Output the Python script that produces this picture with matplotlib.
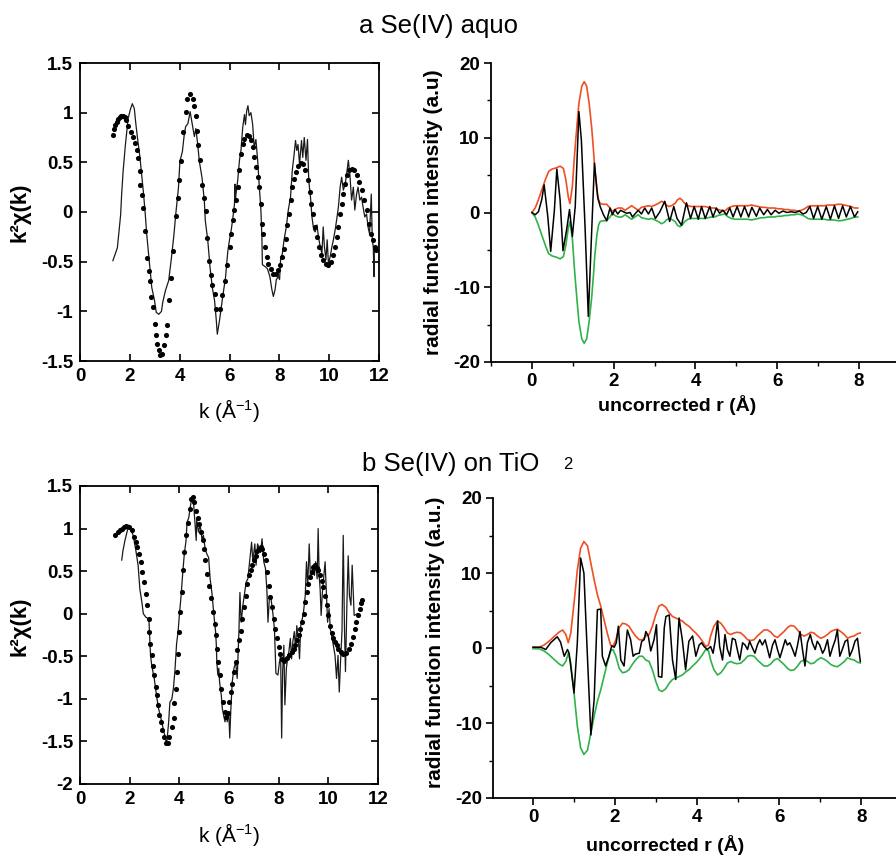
#!/usr/bin/env python3
"""
EXAFS panels: k^2-weighted chi(k) with fit (left) and Fourier transform
magnitude/imaginary part (right) for Se(IV) aquo and Se(IV) on TiO2.
"""
import numpy as np
import matplotlib
matplotlib.use("Agg")
import matplotlib.pyplot as plt
from matplotlib.ticker import MultipleLocator, FormatStrFormatter

plt.rcParams["font.family"] = ["Liberation Sans", "DejaVu Sans"]
plt.rcParams["font.weight"] = "bold"
plt.rcParams["axes.labelweight"] = "bold"
plt.rcParams["axes.unicode_minus"] = False
plt.rcParams["mathtext.fontset"] = "custom"
plt.rcParams["mathtext.rm"] = "Liberation Sans"
plt.rcParams["mathtext.it"] = "Liberation Sans:italic"
plt.rcParams["mathtext.bf"] = "Liberation Sans:bold"
plt.rcParams["mathtext.default"] = "regular"

# ---------------- a: Se(IV) aquo, chi(k) ----------------
ka_exp = [1.32, 1.50, 1.63, 1.67, 1.73, 1.82, 1.93, 2.03, 2.10, 2.18, 2.24, 2.31, 2.41, 2.54,
          2.61, 2.68, 2.78, 2.88, 2.99, 3.06, 3.16, 3.27, 3.32, 3.43, 3.56, 3.67, 3.77, 3.84,
          3.95, 4.01, 4.11, 4.18, 4.24, 4.33, 4.42, 4.52, 4.59, 4.65, 4.72, 4.79, 4.90, 4.99,
          5.03, 5.13, 5.22, 5.31, 5.40, 5.47, 5.51, 5.60, 5.67, 5.74, 5.84, 5.93, 6.00, 6.07,
          6.13, 6.20, 6.22, 6.24, 6.26, 6.33, 6.40, 6.46, 6.53, 6.60, 6.64, 6.69, 6.74, 6.79,
          6.86, 6.93, 6.99, 7.06, 7.13, 7.19, 7.26, 7.30, 7.32, 7.43, 7.52, 7.62, 7.70, 7.76,
          7.83, 7.88, 7.96, 8.01, 8.05, 8.12, 8.19, 8.28, 8.36, 8.45, 8.52, 8.58, 8.65, 8.70,
          8.75, 8.81, 8.89, 8.94, 9.00, 9.07, 9.13, 9.18, 9.25, 9.31, 9.38, 9.44, 9.51, 9.57,
          9.64, 9.71, 9.76, 9.81, 9.87, 9.92, 9.97, 10.04, 10.11, 10.17, 10.24, 10.30, 10.37,
          10.44, 10.50, 10.57, 10.64, 10.70, 10.77, 10.83, 10.90, 10.97, 11.03, 11.10, 11.16,
          11.23, 11.30, 11.36, 11.43, 11.50, 11.56, 11.62, 11.69, 11.73, 11.77, 11.80, 11.81]
chia_exp = [-0.49, -0.36, -0.03, 0.17, 0.41, 0.67, 0.94, 1.04, 1.09, 1.04, 0.89, 0.74, 0.54, 0.21,
            0.01, -0.23, -0.49, -0.76, -0.89, -1.01, -1.03, -1.00, -0.91, -0.79, -0.69, -0.46,
            -0.23, -0.03, 0.24, 0.51, 0.61, 0.77, 0.86, 0.89, 1.01, 0.86, 0.76, 0.84, 0.69,
            0.51, 0.34, 0.11, -0.09, -0.29, -0.56, -0.76, -0.89, -1.09, -1.23, -1.09, -0.96,
            -0.83, -0.66, -0.40, -0.28, -0.18, -0.07, 0.08, 0.28, 0.12, 0.18, 0.32, 0.52, 0.62,
            0.85, 0.98, 0.88, 1.02, 1.07, 0.97, 1.00, 0.88, 0.65, 0.73, 0.52, 0.28, 0.02, -0.25,
            -0.53, -0.55, -0.57, -0.65, -0.78, -0.85, -0.78, -0.68, -0.65, -0.68, -0.48, -0.42,
            -0.28, -0.15, 0.02, 0.15, 0.42, 0.55, 0.72, 0.62, 0.68, 0.48, 0.72, 0.55, 0.75, 0.52,
            0.73, 0.32, 0.15, -0.05, -0.18, -0.20, -0.13, -0.25, -0.35, -0.42, -0.15, -0.35,
            -0.48, -0.28, -0.52, -0.45, -0.35, -0.28, -0.18, -0.08, 0.05, 0.25, 0.35, 0.22,
            0.28, 0.38, 0.52, 0.38, 0.12, 0.25, 0.02, 0.18, 0.25, 0.12, 0.15, 0.05, -0.05,
            -0.02, -0.15, -0.22, 0.18, -0.28, -0.35, -0.65, -0.35]

ka_fit = [1.32, 1.36, 1.41, 1.47, 1.52, 1.59, 1.66, 1.73, 1.80, 1.86, 1.93, 2.03, 2.11, 2.20,
          2.27, 2.34, 2.41, 2.42, 2.48, 2.52, 2.59, 2.68, 2.75, 2.79, 2.86, 2.91, 3.00, 3.05,
          3.09, 3.16, 3.22, 3.29, 3.36, 3.46, 3.50, 3.59, 3.66, 3.73, 3.84, 3.93, 3.97, 4.04,
          4.15, 4.24, 4.31, 4.42, 4.52, 4.59, 4.65, 4.68, 4.72, 4.82, 4.90, 4.99, 5.06, 5.10,
          5.17, 5.24, 5.31, 5.40, 5.47, 5.60, 5.71, 5.81, 5.88, 6.00, 6.07, 6.13, 6.20, 6.26,
          6.33, 6.40, 6.46, 6.53, 6.60, 6.69, 6.77, 6.86, 6.93, 6.99, 7.06, 7.13, 7.19, 7.26,
          7.30, 7.36, 7.43, 7.50, 7.56, 7.66, 7.76, 7.85, 7.95, 8.01, 8.09, 8.17, 8.25, 8.32,
          8.38, 8.45, 8.52, 8.58, 8.65, 8.74, 8.85, 8.94, 9.05, 9.14, 9.22, 9.28, 9.35, 9.44,
          9.51, 9.60, 9.68, 9.77, 9.87, 9.97, 10.07, 10.15, 10.24, 10.30, 10.37, 10.44, 10.50,
          10.57, 10.64, 10.70, 10.79, 10.90, 11.00, 11.10, 11.19, 11.30, 11.39, 11.50, 11.59,
          11.67, 11.74, 11.83, 11.89]
chia_fit = [0.78, 0.84, 0.88, 0.91, 0.94, 0.96, 0.97, 0.97, 0.96, 0.93, 0.87, 0.81, 0.76, 0.69,
            0.62, 0.54, 0.41, 0.27, 0.17, 0.04, -0.19, -0.46, -0.59, -0.69, -0.86, -0.96, -1.13,
            -1.24, -1.33, -1.39, -1.44, -1.43, -1.34, -1.24, -1.14, -0.89, -0.66, -0.39, -0.04,
            0.14, 0.32, 0.51, 0.81, 1.01, 1.14, 1.19, 1.14, 1.07, 0.97, 0.82, 0.67, 0.52, 0.27,
            0.14, 0.01, -0.26, -0.49, -0.63, -0.73, -0.83, -0.98, -0.98, -0.84, -0.69, -0.53,
            -0.35, -0.22, -0.08, 0.02, 0.12, 0.25, 0.42, 0.58, 0.68, 0.73, 0.78, 0.77, 0.72,
            0.65, 0.55, 0.45, 0.35, 0.25, 0.08, -0.12, -0.22, -0.35, -0.45, -0.52, -0.57, -0.62,
            -0.62, -0.58, -0.53, -0.45, -0.37, -0.27, -0.13, -0.02, 0.12, 0.25, 0.33, 0.40, 0.46,
            0.49, 0.48, 0.42, 0.32, 0.20, 0.08, -0.02, -0.15, -0.25, -0.35, -0.43, -0.48, -0.52,
            -0.53, -0.50, -0.43, -0.35, -0.25, -0.15, -0.02, 0.08, 0.18, 0.28, 0.37, 0.42, 0.43,
            0.42, 0.37, 0.30, 0.22, 0.12, 0.02, -0.12, -0.22, -0.28, -0.35, -0.38]

# ---------------- a: Se(IV) aquo, Fourier transform ----------------
ra_env = [0.00, 0.08, 0.16, 0.24, 0.33, 0.41, 0.49, 0.61, 0.69, 0.77, 0.83, 0.89, 0.93, 0.99,
          1.04, 1.10, 1.15, 1.22, 1.28, 1.34, 1.40, 1.46, 1.50, 1.54, 1.59, 1.63, 1.67, 1.75,
          1.83, 1.91, 1.97, 2.03, 2.11, 2.20, 2.28, 2.36, 2.44, 2.52, 2.60, 2.68, 2.76, 2.85,
          2.93, 3.01, 3.09, 3.17, 3.24, 3.29, 3.35, 3.41, 3.50, 3.56, 3.62, 3.67, 3.74, 3.82,
          3.90, 3.98, 4.07, 4.15, 4.23, 4.31, 4.39, 4.47, 4.55, 4.63, 4.72, 4.80, 4.88, 4.96,
          5.04, 5.12, 5.20, 5.28, 5.37, 5.45, 5.53, 5.61, 5.69, 5.77, 5.85, 5.93, 6.02, 6.10,
          6.18, 6.26, 6.34, 6.42, 6.50, 6.59, 6.67, 6.75, 6.83, 6.91, 6.99, 7.07, 7.15, 7.24,
          7.32, 7.40, 7.48, 7.56, 7.64, 7.72, 7.80, 7.89, 7.97]
mag_a = [0.0, 0.6, 1.7, 3.0, 4.4, 5.5, 5.8, 6.0, 6.2, 5.9, 4.4, 2.1, 1.2, 3.5, 7.5, 11.5, 14.6,
         16.9, 17.5, 16.9, 14.6, 11.5, 8.8, 5.7, 3.0, 1.7, 1.2, 1.1, 1.1, 0.6, 0.1, 0.4, 0.6, 0.6,
         0.3, 0.6, 0.9, 0.6, 0.3, 0.7, 0.8, 0.9, 0.8, 1.0, 1.2, 1.5, 1.3, 1.0, 0.8, 0.9, 1.2, 1.7,
         1.9, 1.7, 1.2, 0.9, 0.8, 0.8, 0.8, 0.8, 0.8, 0.7, 0.6, 0.6, 0.4, 0.3, 0.2, 0.6, 0.8, 0.9,
         0.9, 0.9, 0.9, 0.9, 1.0, 0.9, 0.8, 0.7, 0.7, 0.6, 0.6, 0.6, 0.5, 0.5, 0.4, 0.4, 0.3, 0.3,
         0.2, 0.3, 0.5, 0.8, 0.9, 0.9, 0.9, 0.9, 0.9, 1.0, 1.0, 1.0, 1.1, 1.1, 1.0, 0.9, 0.8, 0.6,
         0.6]

ra_im = [0.00, 0.08, 0.16, 0.24, 0.30, 0.39, 0.46, 0.55, 0.61, 0.69, 0.76, 0.85, 0.92, 0.99,
         1.06, 1.15, 1.21, 1.30, 1.38, 1.46, 1.53, 1.61, 1.67, 1.75, 1.83, 1.91, 1.97, 2.03,
         2.10, 2.17, 2.24, 2.32, 2.40, 2.46, 2.52, 2.60, 2.68, 2.76, 2.85, 2.93, 3.02, 3.13,
         3.25, 3.37, 3.47, 3.55, 3.66, 3.78, 3.88, 3.97, 4.07, 4.15, 4.24, 4.35, 4.43, 4.51,
         4.59, 4.67, 4.76, 4.84, 4.92, 5.02, 5.11, 5.20, 5.30, 5.38, 5.49, 5.57, 5.67, 5.76,
         5.85, 5.95, 6.04, 6.14, 6.24, 6.34, 6.44, 6.54, 6.63, 6.71, 6.80, 6.89, 6.99, 7.09,
         7.20, 7.30, 7.40, 7.50, 7.60, 7.69, 7.79, 7.89, 7.97]
im_a = [0.0, -0.3, 0.1, 1.7, 3.7, -0.6, -5.2, 0.3, 5.8, 1.7, -5.1, -2.3, 0.4, -3.2, 0.8, 13.5,
        9.7, -1.9, -13.9, -2.8, 6.6, 2.0, 0.8, -0.3, -1.1, 0.6, -0.3, 0.4, -0.2, 0.3, 0.1, -0.1,
        0.0, -0.6, -0.2, 0.3, -0.2, 0.6, -0.2, 0.6, -0.8, 0.1, 1.5, -1.2, 0.8, -0.8, -1.7, 1.3,
        -0.8, 0.8, -0.9, 0.8, -0.8, 0.8, -0.6, 0.6, -0.1, 0.3, -0.3, 0.6, -0.6, 0.8, -0.6, 0.8,
        -0.6, 0.7, -0.5, 0.6, -0.3, 0.4, -0.3, 0.3, -0.1, 0.2, 0.0, 0.1, 0.0, 0.2, -0.2, 0.0,
        0.8, -0.8, 0.8, -0.9, 0.8, -0.9, 0.9, -0.8, 0.9, -0.6, 0.8, -0.6, 0.1]

# ---------------- b: Se(IV) on TiO2, chi(k) ----------------
kb_exp = [1.68, 1.73, 1.81, 1.91, 1.97, 2.04, 2.14, 2.24, 2.34, 2.41, 2.49, 2.55, 2.65, 2.76,
          2.78, 2.81, 2.84, 2.89, 2.99, 3.08, 3.16, 3.26, 3.35, 3.43, 3.49, 3.57, 3.62, 3.70,
          3.76, 3.82, 3.89, 3.95, 4.00, 4.07, 4.14, 4.20, 4.27, 4.31, 4.38, 4.45, 4.51, 4.57,
          4.61, 4.68, 4.70, 4.77, 4.84, 4.91, 4.97, 5.04, 5.11, 5.18, 5.24, 5.31, 5.38, 5.42,
          5.46, 5.49, 5.51, 5.55, 5.59, 5.62, 5.69, 5.73, 5.78, 5.84, 5.89, 5.93, 5.99, 6.03,
          6.07, 6.13, 6.20, 6.27, 6.33, 6.40, 6.44, 6.49, 6.56, 6.63, 6.69, 6.76, 6.83, 6.91,
          6.96, 7.04, 7.09, 7.15, 7.20, 7.27, 7.33, 7.40, 7.47, 7.53, 7.57, 7.63, 7.69, 7.76,
          7.83, 7.89, 7.97, 8.03, 8.08, 8.12, 8.16, 8.21, 8.25, 8.31, 8.36, 8.41, 8.47, 8.52,
          8.57, 8.63, 8.68, 8.73, 8.79, 8.84, 8.89, 8.95, 9.00, 9.07, 9.12, 9.17, 9.23, 9.28,
          9.33, 9.39, 9.44, 9.49, 9.55, 9.59, 9.63, 9.67, 9.71, 9.76, 9.81, 9.87, 9.92, 9.97,
          10.03, 10.08, 10.13, 10.20, 10.27, 10.33, 10.39, 10.44, 10.49, 10.55, 10.60, 10.65,
          10.69, 10.75, 10.80, 10.85, 10.91, 10.96, 11.00, 11.04, 11.17]
chib_exp = [0.63, 0.74, 0.86, 0.98, 1.04, 1.00, 0.92, 0.76, 0.57, 0.29, 0.14, 0.00, -0.04, -0.06,
            -0.10, -0.29, -0.49, -0.61, -0.76, -0.96, -1.11, -1.23, -1.35, -1.45, -1.54, -1.27,
            -1.04, -1.00, -0.88, -0.68, -0.35, -0.21, -0.02, 0.21, 0.49, 0.70, 0.86, 1.07, 1.13,
            1.27, 1.37, 1.31, 1.15, 0.86, 1.11, 0.96, 1.04, 0.88, 0.92, 0.76, 0.70, 0.66, 0.41,
            0.25, 0.02, -0.10, -0.21, -0.37, -0.57, -0.72, -0.64, -0.80, -0.96, -1.11, -1.19,
            -1.27, -1.15, -1.27, -1.15, -1.46, -1.15, -0.80, -0.64, -0.57, -0.76, -0.21, 0.25,
            -0.10, 0.10, 0.25, 0.37, 0.41, 0.61, 0.84, 0.61, 0.82, 0.57, 0.82, 0.78, 0.72, 0.88,
            0.61, 0.53, 0.25, -0.10, 0.21, 0.18, 0.02, -0.18, -0.70, -0.72, -0.57, -0.49, -1.46,
            -0.68, -0.37, -1.07, -0.64, -0.53, -0.45, -0.29, -0.53, -0.33, -0.21, -0.41, -0.14,
            -0.29, -0.53, -0.14, -0.06, 0.02, 0.21, 0.61, 0.33, 0.82, 0.41, 0.49, 0.57, 0.45,
            0.61, 0.41, 1.00, 0.45, 0.29, -0.02, 0.25, 0.41, 0.61, 0.25, -0.10, 0.06, -0.18,
            -0.25, -0.37, -0.49, -0.76, -0.49, -0.92, -0.57, -0.21, 0.92, -0.18, -0.68, 0.14,
            0.68, 0.21, 0.10, 0.57, 0.29, -0.02, 0.00]

kb_fit = [1.41, 1.54, 1.62, 1.70, 1.78, 1.86, 1.97, 2.08, 2.18, 2.24, 2.31, 2.38, 2.45, 2.51,
          2.58, 2.65, 2.69, 2.76, 2.78, 2.82, 2.88, 2.95, 2.99, 3.05, 3.09, 3.15, 3.19, 3.26,
          3.32, 3.39, 3.46, 3.53, 3.59, 3.70, 3.77, 3.80, 3.86, 3.89, 3.93, 3.97, 4.04, 4.09,
          4.14, 4.18, 4.27, 4.34, 4.41, 4.47, 4.54, 4.61, 4.68, 4.74, 4.81, 4.88, 4.95, 5.01,
          5.05, 5.12, 5.19, 5.26, 5.35, 5.42, 5.46, 5.53, 5.55, 5.62, 5.69, 5.76, 5.82, 5.89,
          5.95, 6.00, 6.07, 6.13, 6.20, 6.27, 6.33, 6.40, 6.47, 6.53, 6.60, 6.67, 6.73, 6.80,
          6.87, 6.93, 7.00, 7.07, 7.13, 7.20, 7.27, 7.33, 7.40, 7.47, 7.53, 7.60, 7.67, 7.73,
          7.80, 7.87, 7.93, 8.00, 8.07, 8.13, 8.23, 8.33, 8.43, 8.53, 8.60, 8.67, 8.73, 8.80,
          8.87, 8.93, 9.00, 9.07, 9.13, 9.20, 9.27, 9.33, 9.40, 9.47, 9.53, 9.60, 9.67, 9.73,
          9.80, 9.87, 9.93, 10.00, 10.07, 10.13, 10.20, 10.27, 10.33, 10.40, 10.51, 10.61,
          10.73, 10.83, 10.91, 11.00, 11.07, 11.13, 11.20, 11.27, 11.31, 11.36]
chib_fit = [0.92, 0.96, 0.98, 1.00, 1.02, 1.03, 1.02, 0.98, 0.90, 0.84, 0.78, 0.70, 0.61, 0.49,
            0.37, 0.23, 0.10, -0.06, -0.21, -0.35, -0.49, -0.61, -0.72, -0.86, -0.96, -1.07,
            -1.19, -1.27, -1.37, -1.45, -1.52, -1.52, -1.45, -1.33, -1.23, -1.05, -0.88, -0.68,
            -0.47, -0.21, 0.02, 0.25, 0.51, 0.72, 0.92, 1.07, 1.23, 1.35, 1.37, 1.31, 1.21, 1.13,
            1.05, 0.96, 0.86, 0.76, 0.63, 0.47, 0.33, 0.18, 0.02, -0.12, -0.25, -0.41, -0.57,
            -0.72, -0.88, -1.04, -1.15, -1.21, -1.17, -1.04, -0.92, -0.82, -0.68, -0.57, -0.43,
            -0.31, -0.20, -0.06, 0.08, 0.21, 0.35, 0.45, 0.51, 0.57, 0.63, 0.68, 0.74, 0.76, 0.78,
            0.76, 0.70, 0.63, 0.49, 0.33, 0.20, 0.08, -0.06, -0.18, -0.29, -0.39, -0.47, -0.53,
            -0.55, -0.52, -0.49, -0.45, -0.41, -0.37, -0.31, -0.25, -0.18, -0.10, 0.00, 0.14,
            0.25, 0.35, 0.43, 0.49, 0.55, 0.57, 0.54, 0.51, 0.46, 0.39, 0.31, 0.21, 0.10, -0.02,
            -0.14, -0.23, -0.29, -0.33, -0.37, -0.41, -0.45, -0.47, -0.46, -0.41, -0.35, -0.27,
            -0.18, -0.10, -0.02, 0.06, 0.12, 0.16]

# ---------------- b: Se(IV) on TiO2, Fourier transform ----------------
rb_env = [0.00, 0.15, 0.27, 0.39, 0.51, 0.63, 0.72, 0.80, 0.86, 0.92, 1.00, 1.08, 1.16, 1.24,
          1.33, 1.41, 1.49, 1.57, 1.65, 1.73, 1.81, 1.89, 1.95, 2.02, 2.10, 2.18, 2.26, 2.34,
          2.42, 2.50, 2.59, 2.67, 2.75, 2.83, 2.91, 2.99, 3.07, 3.15, 3.24, 3.32, 3.40, 3.48,
          3.56, 3.64, 3.72, 3.80, 3.89, 3.97, 4.05, 4.13, 4.21, 4.28, 4.33, 4.41, 4.50, 4.58,
          4.66, 4.74, 4.82, 4.90, 4.98, 5.07, 5.15, 5.23, 5.31, 5.39, 5.47, 5.55, 5.63, 5.72,
          5.80, 5.88, 5.96, 6.04, 6.12, 6.20, 6.28, 6.37, 6.45, 6.53, 6.61, 6.69, 6.77, 6.85,
          6.93, 7.02, 7.10, 7.18, 7.26, 7.34, 7.42, 7.50, 7.59, 7.67, 7.75, 7.83, 7.91, 7.98]
mag_b = [0.1, 0.1, 0.4, 0.9, 1.5, 2.1, 2.4, 1.8, 0.7, 2.0, 6.0, 10.4, 13.3, 14.2, 13.6, 11.3,
         9.1, 7.1, 5.6, 3.8, 2.0, 0.4, 0.2, 1.1, 2.7, 3.3, 3.2, 2.9, 2.2, 1.6, 1.1, 1.1, 1.6, 1.8,
         2.9, 4.4, 5.6, 5.8, 5.4, 4.7, 4.2, 4.0, 3.8, 3.6, 3.2, 2.9, 2.4, 2.0, 1.5, 0.9, 0.2, 0.4,
         1.6, 2.9, 3.6, 3.3, 2.7, 2.0, 1.8, 2.0, 2.1, 2.0, 1.6, 1.1, 1.0, 1.1, 1.6, 2.0, 2.4, 2.4,
         2.1, 1.6, 1.4, 1.8, 2.2, 2.7, 3.0, 2.9, 2.4, 1.8, 1.6, 1.8, 2.1, 2.0, 1.6, 1.3, 1.5, 1.8,
         2.2, 2.4, 2.5, 2.2, 1.8, 1.3, 1.5, 1.6, 1.9, 2.0]

rb_im = [0.00, 0.19, 0.31, 0.43, 0.59, 0.67, 0.76, 0.84, 0.88, 1.00, 1.08, 1.16, 1.24, 1.33,
         1.41, 1.49, 1.57, 1.65, 1.69, 1.77, 1.85, 1.92, 1.98, 2.03, 2.08, 2.14, 2.22, 2.30,
         2.38, 2.44, 2.50, 2.59, 2.65, 2.71, 2.75, 2.81, 2.87, 2.95, 3.01, 3.06, 3.14, 3.20,
         3.24, 3.32, 3.40, 3.48, 3.56, 3.64, 3.72, 3.80, 3.89, 3.97, 4.05, 4.11, 4.17, 4.25,
         4.33, 4.39, 4.44, 4.50, 4.55, 4.62, 4.68, 4.74, 4.80, 4.86, 4.93, 4.98, 5.04, 5.11,
         5.17, 5.23, 5.28, 5.35, 5.41, 5.47, 5.53, 5.59, 5.66, 5.72, 5.77, 5.84, 5.90, 5.96,
         6.02, 6.08, 6.15, 6.20, 6.26, 6.33, 6.39, 6.45, 6.51, 6.57, 6.63, 6.69, 6.76, 6.81,
         6.88, 6.93, 6.99, 7.06, 7.11, 7.18, 7.24, 7.30, 7.37, 7.42, 7.48, 7.54, 7.61, 7.67,
         7.72, 7.79, 7.85, 7.91, 7.98]
im_b = [0.1, 0.1, -0.2, 0.7, 1.5, 0.8, -1.1, -0.2, -0.7, -6.0, 0.7, 12.0, 10.0, -1.6, -11.6,
        -6.9, 5.1, 5.2, -1.1, -2.4, -1.1, 0.3, 0.1, 0.7, 2.9, -1.6, -2.4, 2.4, 1.1, -1.1, -0.8,
        -0.7, 0.9, 1.1, 2.2, 1.6, -0.4, 1.1, 3.1, -3.8, -3.9, 2.7, 4.2, 4.4, -1.6, -4.2, 4.0,
        1.1, -2.9, 0.9, 1.6, -1.1, 0.4, 0.7, 0.2, -0.2, 0.2, -0.7, 0.9, 3.6, 0.2, -1.6, 1.8,
        -0.2, -1.1, 1.3, 1.1, -0.2, -1.6, 0.7, 0.4, -0.2, 0.9, 0.0, -0.7, 0.4, 1.1, 0.4, 1.1,
        -0.2, -1.3, 0.4, 1.1, -0.2, -1.3, -0.2, 1.1, 0.4, 0.7, -0.2, -1.1, 0.4, 2.2, -0.2, -2.4,
        0.7, 1.8, 0.7, -0.2, 0.9, 0.4, -0.7, -0.2, 1.1, -1.1, 0.0, 1.1, 2.4, -1.1, -0.2, 0.9,
        1.1, -1.1, -0.2, 0.9, 1.3, -1.8]

W, H = 896, 856
RED = "#f04e23"
GREEN = "#30b24a"


def style_k_axes(ax, ymin, ymax):
    ax.set_xlim(0, 12)
    ax.set_ylim(ymin, ymax)
    ax.xaxis.set_major_locator(MultipleLocator(2))
    ax.yaxis.set_major_locator(MultipleLocator(0.5))
    ax.yaxis.set_major_formatter(FormatStrFormatter("%g"))
    ax.tick_params(direction="in", top=True, right=True, length=5, width=1.2,
                   labelsize=13.5, pad=5)
    for sp in ax.spines.values():
        sp.set_linewidth(1.3)
    ax.set_ylabel("k²χ(k)", fontsize=16, fontweight="bold")
    ax.set_xlabel(r"k (Å$^{-1}$)", fontsize=15, fontweight="normal")


def plot_chi(ax, k_exp, chi_exp, k_fit, chi_fit):
    ax.plot(k_exp, chi_exp, "-", color="#1a1a1a", lw=0.9)
    ax.plot(k_fit, chi_fit, "o", color="black", ms=3.7, mec="none")


def plot_ft(ax, r_env, mag, r_im, im, xmax, ylabel):
    mag = np.asarray(mag)
    ax.plot(r_env, mag, color=RED, lw=1.2)
    ax.plot(r_env, -mag, color=GREEN, lw=1.2)
    ax.plot(r_im, im, color="black", lw=1.1)
    ax.set_xlim(-1, xmax)
    ax.set_ylim(-20, 20)
    ax.spines["top"].set_visible(False)
    ax.spines["right"].set_visible(False)
    for sp in ("left", "bottom"):
        ax.spines[sp].set_linewidth(1.3)
    ax.xaxis.set_major_locator(MultipleLocator(2))
    ax.xaxis.set_minor_locator(MultipleLocator(1))
    ax.yaxis.set_major_locator(MultipleLocator(10))
    ax.yaxis.set_minor_locator(MultipleLocator(5))
    ax.tick_params(which="major", direction="out", length=5, width=1.2,
                   labelsize=13.5, pad=3)
    ax.tick_params(which="minor", direction="out", length=3, width=1.0)
    ax.set_ylabel(ylabel, fontsize=15, fontweight="bold")
    ax.set_xlabel("uncorrected r (Å)", fontsize=14, fontweight="bold")


def main():
    fig = plt.figure(figsize=(W / 100, H / 100), dpi=100)

    ax1 = fig.add_axes([80 / W, 1 - 361 / H, 299 / W, 298 / H])
    plot_chi(ax1, ka_exp, chia_exp, ka_fit, chia_fit)
    style_k_axes(ax1, -1.5, 1.5)
    ax1.yaxis.set_label_coords(-0.167, 0.5)
    ax1.xaxis.set_label_coords(0.5, -0.12)

    ax2 = fig.add_axes([491 / W, 1 - 362 / H, 405 / W, 299 / H])
    plot_ft(ax2, ra_env, mag_a, ra_im, im_a, 8.905,
            "radial function intensity (a.u)")
    ax2.yaxis.set_label_coords(-0.118, 0.5)
    ax2.xaxis.set_label_coords(0.46, -0.11)

    ax3 = fig.add_axes([80 / W, 1 - 784 / H, 298 / W, 298 / H])
    plot_chi(ax3, kb_exp, chib_exp, kb_fit, chib_fit)
    style_k_axes(ax3, -2, 1.5)
    ax3.yaxis.set_label_coords(-0.167, 0.53)
    ax3.xaxis.set_label_coords(0.5, -0.125)

    ax4 = fig.add_axes([493 / W, 1 - 798 / H, 403 / W, 300 / H])
    plot_ft(ax4, rb_env, mag_b, rb_im, im_b, 8.85,
            "radial function intensity (a.u.)")
    ax4.set_xlim(-0.976, 8.85)
    ax4.yaxis.set_label_coords(-0.119, 0.52)
    ax4.xaxis.set_label_coords(0.427, -0.123)

    fig.text(359 / W, 1 - 33 / H, "a Se(IV) aquo", ha="left", va="baseline",
             fontsize=18.5, fontweight="normal")
    fig.text(362 / W, 1 - 471 / H, "b Se(IV) on TiO", ha="left", va="baseline",
             fontsize=18.5, fontweight="normal")
    fig.text(563 / W, 1 - 469 / H, "2", ha="left", va="baseline",
             fontsize=12, fontweight="normal")

    fig.savefig("out.png", dpi=100)


if __name__ == "__main__":
    main()
